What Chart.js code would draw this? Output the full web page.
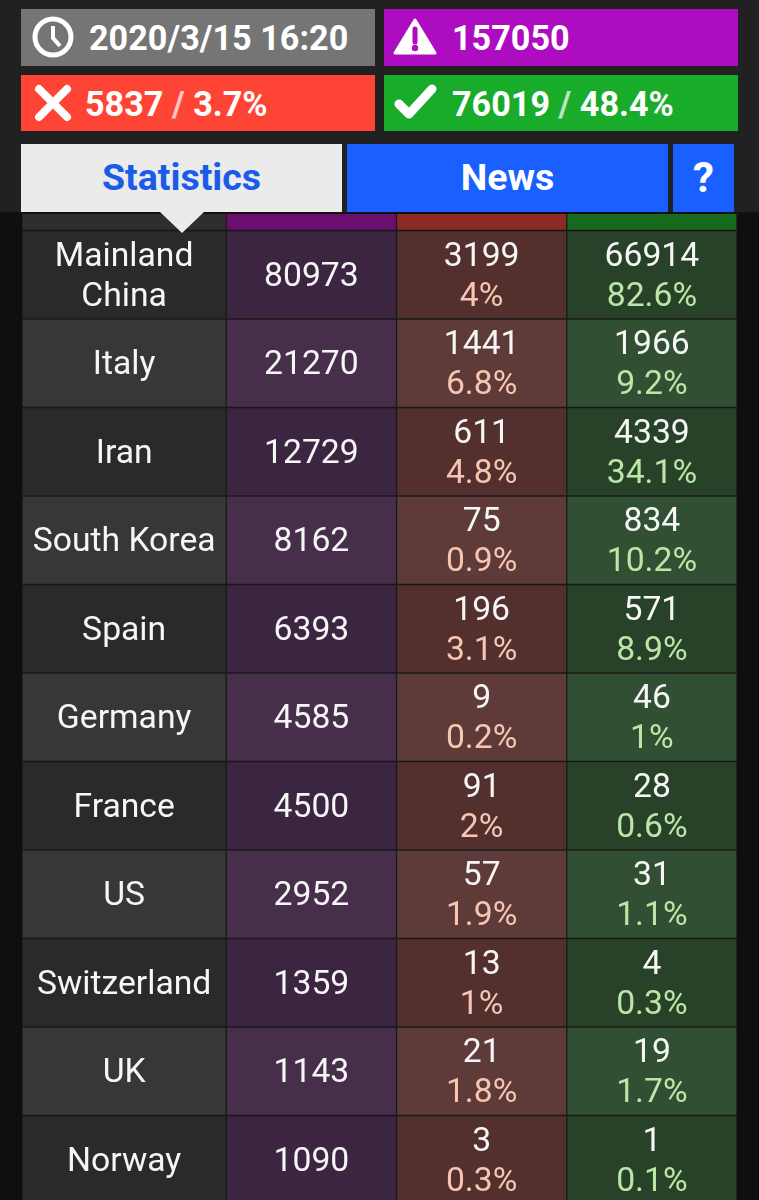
<!DOCTYPE html>
<html>
<head>
<meta charset="utf-8">
<script src="https://cdn.jsdelivr.net/npm/chart.js@4"></script>
<style>
html, body { margin: 0; padding: 0; width: 759px; height: 1200px; overflow: hidden; background: #0f0f0f; font-family: Roboto, sans-serif; }
#Chart { position: absolute; left: 0; top: 0; }
#top { position: absolute; left: 0; top: 0; width: 759px; height: 212px; background: #212121; border-bottom: 2px solid #111; }
.box { position: absolute; color: #fff; font-weight: 700; font-size: 34.2px; line-height: 1; white-space: nowrap; }
.card { height: 57px; width: 354px; }
.card span.t { position: absolute; top: 12px; }
.card span.s { opacity: .7; }
.card svg { position: absolute; }
.tab { top: 144px; height: 68px; line-height: 67px; text-align: center; background: #1a5fff; font-size: 37.5px; }
#arrow { position: absolute; left: 160px; top: 212px; width: 0; height: 0; border-left: 22px solid transparent; border-right: 22px solid transparent; border-top: 21px solid #ebebeb; }
</style>
</head>
<body>
<canvas id="Chart" width="759" height="1204"></canvas>
<div id="top"></div>
<div class="box card" style="left:21px;top:9px;background:#757575">
  <svg style="left:11px;top:7px" width="42" height="42" viewBox="0 0 42 42"><circle cx="21" cy="21" r="18" fill="none" stroke="#fff" stroke-width="5"/><path d="M21 10v12l7 8" fill="none" stroke="#fff" stroke-width="4"/></svg>
  <span class="t" style="left:68px">2020/3/15 16:20</span>
</div>
<div class="box card" style="left:384px;top:9px;background:#ae0cc0">
  <svg style="left:9px;top:9px" width="44" height="38" viewBox="0 0 44 38"><path d="M22 2L42 35H2Z" fill="#fff" stroke="#fff" stroke-width="3" stroke-linejoin="round"/><path d="M22 11v13" stroke="#ae0cc0" stroke-width="5" stroke-linecap="round"/><circle cx="22" cy="30" r="3.2" fill="#ae0cc0"/></svg>
  <span class="t" style="left:68px">157050</span>
</div>
<div class="box card" style="left:21px;top:75px;height:56px;background:#fe4535">
  <svg style="left:13px;top:9px" width="38" height="38" viewBox="0 0 38 38"><path d="M5 5L33 33M33 5L5 33" stroke="#fff" stroke-width="8" stroke-linecap="round"/></svg>
  <span class="t" style="left:64px">5837 <span class="s">/</span> 3.7%</span>
</div>
<div class="box card" style="left:384px;top:75px;height:56px;background:#18ac2a">
  <svg style="left:10px;top:8px" width="44" height="38" viewBox="0 0 44 38"><path d="M5 21L15 31L38 6" fill="none" stroke="#fff" stroke-width="9" stroke-linecap="round" stroke-linejoin="round"/></svg>
  <span class="t" style="left:68px">76019 <span class="s">/</span> 48.4%</span>
</div>
<div class="box tab" style="left:21px;width:321px;background:#ebebeb;color:#1a5ce8">Statistics</div>
<div class="box tab" style="left:347px;width:321px">News</div>
<div class="box tab" style="left:673px;width:61px;font-size:42px">?</div>
<div id="arrow"></div>
<script>
const countries = ['Mainland China', 'Italy', 'Iran', 'South Korea', 'Spain', 'Germany', 'France', 'US', 'Switzerland', 'UK', 'Norway'];
const confirmed = [80973, 21270, 12729, 8162, 6393, 4585, 4500, 2952, 1359, 1143, 1090];
const deaths = [3199, 1441, 611, 75, 196, 9, 91, 57, 13, 21, 3];
const deathPct = [4, 6.8, 4.8, 0.9, 3.1, 0.2, 2, 1.9, 1, 1.8, 0.3];
const recovered = [66914, 1966, 4339, 834, 571, 46, 28, 31, 4, 19, 1];
const recoveredPct = [82.6, 9.2, 34.1, 10.2, 8.9, 1, 0.6, 1.1, 0.3, 1.7, 0.1];

// column edges in scale units, first column is a bit wider
const colEdges = [0, 1.2, 2.2, 3.2, 4.2];
const headerColors = ['#2e2e2e', '#6a0f6e', '#8e2a24', '#166a1e'];
const darkColors = ['#2a2a2a', '#3c2540', '#532f2d', '#28422a'];
const lightColors = ['#373737', '#472f4c', '#5e3a38', '#304f33'];

const rowLabels = ['header'].concat(countries);

function cellColors(col) {
    return rowLabels.map((_, i) => i === 0 ? headerColors[col] : (i % 2 ? darkColors[col] : lightColors[col]));
}

const datasets = colEdges.slice(0, 4).map((start, col) => ({
    data: rowLabels.map(() => [start, colEdges[col + 1]]),
    backgroundColor: cellColors(col),
    borderColor: '#1b1b1b',
    borderWidth: 1,
    borderSkipped: false,
    barPercentage: 1,
    categoryPercentage: 1,
    grouped: false
}));

const cellText = {
    id: 'cellText',
    afterDatasetsDraw(chart) {
        const ctx = chart.ctx;
        const xs = chart.scales.x;
        const ys = chart.scales.y;
        const mid = col => xs.getPixelForValue((colEdges[col] + colEdges[col + 1]) / 2);
        ctx.save();
        ctx.textAlign = 'center';
        ctx.textBaseline = 'middle';
        ctx.font = '33.7px Roboto';
        countries.forEach((name, i) => {
            const y = ys.getPixelForValue(i + 1) + 2.5;
            ctx.fillStyle = '#f6f6f6';
            if (name === 'Mainland China') {
                ctx.fillText('Mainland', mid(0), y - 20);
                ctx.fillText('China', mid(0), y + 20);
            } else {
                ctx.fillText(name, mid(0), y);
            }
            ctx.fillText(confirmed[i], mid(1), y);
            ctx.fillText(deaths[i], mid(2), y - 20);
            ctx.fillText(recovered[i], mid(3), y - 20);
            ctx.fillStyle = '#f8c5b3';
            ctx.fillText(deathPct[i] + '%', mid(2), y + 20);
            ctx.fillStyle = '#bae7a6';
            ctx.fillText(recoveredPct[i] + '%', mid(3), y + 20);
        });
        ctx.restore();
    }
};

new Chart(document.getElementById('Chart').getContext('2d'), {
    type: 'bar',
    data: { labels: rowLabels, datasets: datasets },
    options: {
        indexAxis: 'y',
        responsive: false,
        animation: false,
        devicePixelRatio: 1,
        layout: { padding: { left: 22, right: 22, top: 142, bottom: 0 } },
        plugins: { legend: { display: false }, tooltip: { enabled: false } },
        scales: {
            x: { type: 'linear', min: 0, max: 4.2, display: false },
            y: { type: 'category', display: false }
        }
    },
    plugins: [cellText]
});
</script>
</body>
</html>
